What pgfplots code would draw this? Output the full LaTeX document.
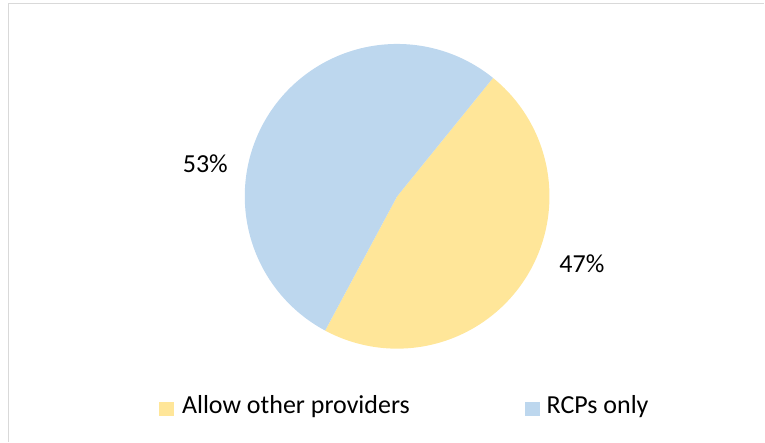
\documentclass[border=0pt]{standalone}
\usepackage{pgfplots}
\pgfplotsset{compat=1.18}
\usepackage{fontspec}
\setmainfont{Carlito}
\definecolor{pieyellow}{HTML}{FFE699}
\definecolor{pieblue}{HTML}{BDD7EE}
\definecolor{framegray}{HTML}{D9D9D9}
\begin{document}
\begin{tikzpicture}
\pgfmathsetmacro{\vA}{47}% Allow other providers
\pgfmathsetmacro{\vB}{53}% RCPs only
\pgfmathsetmacro{\aStart}{51}
\pgfmathsetmacro{\aMid}{\aStart-3.6*\vA}
\pgfmathsetmacro{\aEnd}{\aMid-3.6*\vB}
\def\cx{397.5}\def\cy{245.5}\def\rr{152.5}
\begin{axis}[
  width=765bp, height=442bp, scale only axis,
  xmin=0, xmax=765, ymin=0, ymax=442,
  hide axis, clip=false,
]
\path (axis cs:0,0) rectangle (axis cs:765,442);
\draw[framegray, line width=1.5bp] (axis cs:8.5,0) -- (axis cs:8.5,438.5) -- (axis cs:765,438.5);
\addplot[fill=pieyellow, draw=none, domain=\aMid:\aStart, samples=120, variable=\t]
  ({\cx+\rr*cos(\t)},{\cy+\rr*sin(\t)}) -- (axis cs:\cx,\cy) -- cycle;
\addplot[fill=pieblue, draw=none, domain=\aEnd:\aMid, samples=120, variable=\t]
  ({\cx+\rr*cos(\t)},{\cy+\rr*sin(\t)}) -- (axis cs:\cx,\cy) -- cycle;
\node[font=\fontsize{26bp}{30bp}\selectfont, anchor=center] at (axis cs:205.5,278) {53\%};
\node[font=\fontsize{26bp}{30bp}\selectfont, anchor=center] at (axis cs:582.5,178) {47\%};
\fill[pieyellow] (axis cs:159,26) rectangle (axis cs:174,40);
\node[font=\fontsize{26bp}{30bp}\selectfont, anchor=base west, inner sep=0pt] at (axis cs:182,27.7) {Allow other providers};
\fill[pieblue] (axis cs:526,26) rectangle (axis cs:541,40);
\node[font=\fontsize{26bp}{30bp}\selectfont, anchor=base west, inner sep=0pt] at (axis cs:547,27.7) {RCPs only};
\end{axis}
\end{tikzpicture}
\end{document}
